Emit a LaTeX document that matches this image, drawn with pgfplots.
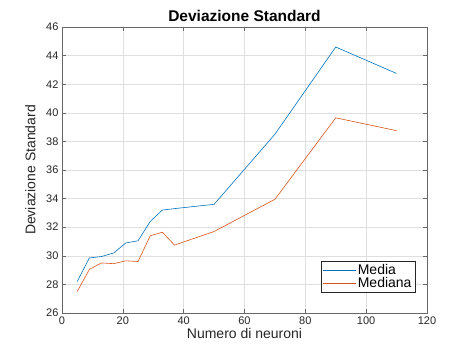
\documentclass[border=0pt]{standalone}
\usepackage{pgfplots}
\pgfplotsset{compat=1.18}
\usepackage{fontspec}
\setmainfont{Liberation Sans}
\usetikzlibrary{calc}
\definecolor{mblue}{rgb}{0,0.447,0.741}
\definecolor{morange}{rgb}{0.85,0.325,0.098}
\definecolor{axgray}{rgb}{0.15,0.15,0.15}
\begin{document}
\begin{tikzpicture}
\begin{axis}[name=ax,
  scale only axis, width=365bp, height=286bp,
  xmin=0, xmax=120, ymin=26, ymax=46,
  xtick={0,20,...,120}, ytick={26,28,...,46},
  tick align=inside, tick pos=both,
  major tick length=4bp,
  grid=major, grid style={gray!25, line width=0.4pt},
  axis line style={axgray!70, line width=0.6pt},
  every tick/.style={axgray!70},
  tick label style={font=\fontsize{11bp}{13bp}\selectfont, text=axgray},
  /pgf/number format/assume math mode=true,
  title={\textbf{Deviazione Standard}},
  title style={font=\fontsize{15.5bp}{17bp}\selectfont, yshift=-4bp},
  xlabel={Numero di neuroni}, ylabel={Deviazione Standard},
  label style={font=\fontsize{14bp}{16bp}\selectfont, text=axgray},
  xlabel style={yshift=3bp},
  ylabel style={yshift=4bp},
  legend style={at={(0.968,0.07)}, anchor=south east, draw=axgray, line width=0.6pt,
     font=\fontsize{14bp}{16bp}\selectfont, inner sep=1.5bp, row sep=-2.5bp},
  legend cell align=left,
  legend image code/.code={\draw[#1] (0cm,0cm) -- (1.15cm,0cm);},
]
\addplot[mblue, line width=0.6pt] coordinates {
(5,28.2) (9,29.85) (13,29.95) (17,30.2) (21,30.9) (25,31.05) (29,32.4) (33,33.2) (37,33.3) (50,33.6) (70,38.5) (90,44.6) (110,42.75)};
\addlegendentry{Media}
\addplot[morange, line width=0.6pt] coordinates {
(5,27.5) (9,29.05) (13,29.5) (17,29.45) (21,29.65) (25,29.6) (29,31.4) (33,31.65) (37,30.75) (50,31.7) (70,33.95) (90,39.65) (110,38.75)};
\addlegendentry{Mediana}
\end{axis}
\pgfresetboundingbox
\path ($(ax.south west)+(-62bp,-41bp)$) rectangle ($(ax.north east)+(45bp,27bp)$);
\end{tikzpicture}
\end{document}
